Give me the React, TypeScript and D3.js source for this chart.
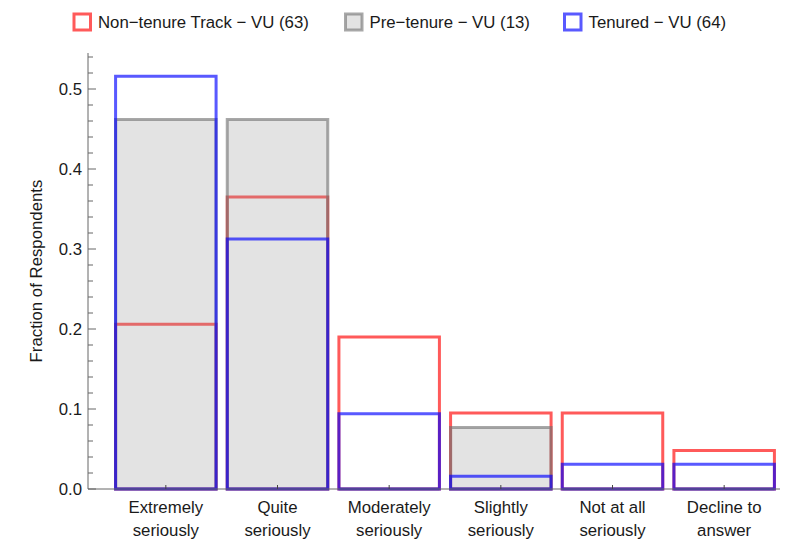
import React from "react";
import * as d3 from "d3";

// answer categories (two-line labels)
const categories = [
  ["Extremely", "seriously"],
  ["Quite", "seriously"],
  ["Moderately", "seriously"],
  ["Slightly", "seriously"],
  ["Not at all", "seriously"],
  ["Decline to", "answer"],
];

const nonTenure = [0.206, 0.365, 0.19, 0.095, 0.095, 0.048];
const preTenure = [0.462, 0.462, 0, 0.077, 0, 0];
const tenured = [0.516, 0.3125, 0.094, 0.016, 0.031, 0.031];

const seriesNames = ["Non\u2212tenure Track \u2212 VU (63)", "Pre\u2212tenure \u2212 VU (13)", "Tenured \u2212 VU (64)"];
const yTicks = [0, 0.1, 0.2, 0.3, 0.4, 0.5];

const W = 785;
const H = 541;
const font = "'Liberation Sans', Arial, sans-serif";
const fs = 16.8;

const series = [
  { name: seriesNames[0], values: nonTenure, stroke: "rgb(255,90,90)", fill: "none", fillOpacity: 0 },
  { name: seriesNames[1], values: preTenure, stroke: "rgba(110,110,110,0.6)", fill: "#999", fillOpacity: 0.27 },
  { name: seriesNames[2], values: tenured, stroke: "rgba(0,0,255,0.65)", fill: "none", fillOpacity: 0 },
];

const App = () => {
  const x = d3
    .scaleBand<number>()
    .domain(d3.range(categories.length))
    .range([110, 780])
    .paddingInner(0.1)
    .paddingOuter(0.05);
  const y = d3.scaleLinear().domain([0, 0.545]).range([489, 53]);
  const axisX = 88;
  const minorTicks = d3.range(0, 0.545, 0.02).filter((t) => Math.abs((t * 10) % 1) > 0.01 && Math.abs((t * 10) % 1) < 0.99);

  const barPath = (i: number, v: number) => {
    const x0 = x(i)!;
    const w = x.bandwidth();
    const y0 = y(0);
    const y1 = y(v);
    return `M${x0},${y0}V${y1}H${x0 + w}V${y0}Z`;
  };

  const legendX = [74, 345.5, 564.5];

  return (
    <svg width={W} height={H} style={{ position: "absolute", left: 0, top: 0, background: "#fff" }} fontFamily={font}>
      {/* legend */}
      {series.map((s, k) => (
        <g key={k}>
          <rect
            x={legendX[k]}
            y={14}
            width={16.5}
            height={16}
            fill={k === 1 ? "#e3e3e3" : "#fff"}
            stroke={s.stroke}
            strokeWidth={3}
          />
          <text x={legendX[k] + 24} y={28} fontSize={fs} fill="#1a1a1a">
            {s.name}
          </text>
        </g>
      ))}

      {/* bars */}
      {series.map((s, k) => (
        <g key={k}>
          {s.values.map((v, i) => (
            <path
              key={i}
              d={barPath(i, v)}
              fill={s.fill}
              fillOpacity={s.fillOpacity}
              stroke={s.stroke}
              strokeWidth={3}
            />
          ))}
        </g>
      ))}

      {/* y axis */}
      <line x1={axisX} x2={axisX} y1={y(0)} y2={y(0.545)} stroke="#666" strokeWidth={1} />
      {yTicks.map((t) => (
        <g key={t}>
          <line x1={axisX} x2={axisX + 8} y1={y(t)} y2={y(t)} stroke="#666" />
          <text x={axisX - 6} y={y(t) + 6} fontSize={fs} textAnchor="end" fill="#1a1a1a">
            {d3.format(".1f")(t)}
          </text>
        </g>
      ))}
      {minorTicks.map((t) => (
        <line key={t} x1={axisX} x2={axisX + 5} y1={y(t)} y2={y(t)} stroke="#666" />
      ))}

      {/* x axis */}
      <line x1={axisX} x2={780} y1={y(0)} y2={y(0)} stroke="#666" />
      {categories.map((c, i) => {
        const cx = x(i)! + x.bandwidth() / 2;
        return (
          <g key={i}>
            <line x1={cx} x2={cx} y1={y(0)} y2={y(0) - 4} stroke="#444" />
            <text x={cx} y={513} fontSize={fs} textAnchor="middle" fill="#1a1a1a">
              {c[0]}
            </text>
            <text x={cx} y={536} fontSize={fs} textAnchor="middle" fill="#1a1a1a">
              {c[1]}
            </text>
          </g>
        );
      })}

      <text
        transform={`translate(42,${(y(0) + y(0.545)) / 2}) rotate(-90)`}
        textAnchor="middle"
        fontSize={fs}
        fill="#1a1a1a"
      >
        Fraction of Respondents
      </text>
    </svg>
  );
};

export default App;
